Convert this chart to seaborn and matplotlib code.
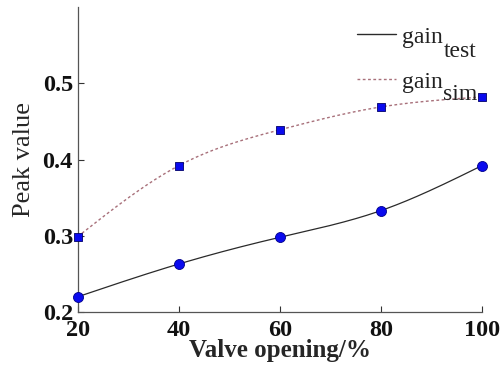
import numpy as np
import pandas as pd
import matplotlib
matplotlib.use("Agg")
import matplotlib.pyplot as plt
import seaborn as sns

# Peak value versus valve opening
opening = [20, 40, 60, 80, 100]
gain_test = [0.220, 0.263, 0.298, 0.333, 0.392]
gain_sim = [0.299, 0.392, 0.439, 0.469, 0.482]
x_ticks = [20, 40, 60, 80, 100]
y_ticks = [0.2, 0.3, 0.4, 0.5]
series_names = ["gain", "gain"]
series_subs = ["test", "sim"]


def natural_spline(x, y, n=200):
    """Smooth natural cubic spline through the given points."""
    x = np.asarray(x, float)
    y = np.asarray(y, float)
    k = len(x)
    h = np.diff(x)
    A = np.zeros((k, k))
    b = np.zeros(k)
    A[0, 0] = A[-1, -1] = 1.0
    for i in range(1, k - 1):
        A[i, i - 1] = h[i - 1]
        A[i, i] = 2 * (h[i - 1] + h[i])
        A[i, i + 1] = h[i]
        b[i] = 3 * ((y[i + 1] - y[i]) / h[i] - (y[i] - y[i - 1]) / h[i - 1])
    c = np.linalg.solve(A, b)
    xs = np.linspace(x[0], x[-1], n)
    ys = np.empty_like(xs)
    for j, xv in enumerate(xs):
        i = min(np.searchsorted(x, xv, side="right") - 1, k - 2)
        dx = xv - x[i]
        bi = (y[i + 1] - y[i]) / h[i] - h[i] * (2 * c[i] + c[i + 1]) / 3
        di = (c[i + 1] - c[i]) / (3 * h[i])
        ys[j] = y[i] + bi * dx + c[i] * dx ** 2 + di * dx ** 3
    return xs, ys


sns.set_style("ticks")
plt.rcParams["font.family"] = ["Liberation Serif", "DejaVu Serif"]

fig = plt.figure(figsize=(5.02, 3.71), dpi=100)
ax = fig.add_axes([0.155, 0.159, 0.805, 0.822])

xs_t, ys_t = natural_spline(opening, gain_test)
xs_s, ys_s = natural_spline(opening, gain_sim)

test_color = "#2a2a2a"
sim_color = "#a8707a"

sns.lineplot(x=xs_t, y=ys_t, ax=ax, color=test_color, lw=0.9,
             label=series_names[0])
sns.lineplot(x=xs_s, y=ys_s, ax=ax, color=sim_color, lw=1.0,
             linestyle=(0, (2.0, 1.8)), label=series_names[1])

pts = pd.DataFrame({"opening": opening, "test": gain_test, "sim": gain_sim})
sns.scatterplot(data=pts, x="opening", y="test", ax=ax, marker="o", s=52,
                color="#0a0aee", edgecolor="#00008a", linewidth=0.6,
                zorder=5, legend=False, clip_on=False)
sns.scatterplot(data=pts, x="opening", y="sim", ax=ax, marker="s", s=34,
                color="#0a0aee", edgecolor="#00006a", linewidth=0.6,
                zorder=5, legend=False, clip_on=False)

ax.set_xlim(20, 100)
ax.set_ylim(0.2, 0.6)
ax.set_xticks(x_ticks)
ax.set_xticklabels([str(v) for v in x_ticks])
ax.set_yticks(y_ticks)
ax.set_yticklabels([f"{v:.1f}" for v in y_ticks])
ax.tick_params(direction="in", length=4, width=0.8, labelsize=17.5,
               colors="#333333")
ax.tick_params(axis="x", pad=6)
ax.tick_params(axis="y", pad=3.5)
for lab in ax.get_xticklabels() + ax.get_yticklabels():
    lab.set_fontweight("bold")
    lab.set_color("#111111")

sns.despine(ax=ax)
for side in ("left", "bottom"):
    ax.spines[side].set_color("#555555")
    ax.spines[side].set_linewidth(0.9)

ax.set_xlabel("Valve opening/%", fontsize=18, fontweight="bold", labelpad=-1.5)
ax.set_ylabel("Peak value", fontsize=19, labelpad=5.5)

leg = ax.legend(loc="upper left", bbox_to_anchor=(357 / 502, 1 - 26 / 371),
                bbox_transform=fig.transFigure, borderaxespad=0, borderpad=0,
                frameon=False, fontsize=17, handlelength=1.65,
                handletextpad=0.25, labelspacing=1.0)
for line in leg.get_lines():
    line.set_linewidth(1.0)

# subscripts at full size, dropped below the baseline
sub_drop = [5, 6.5]
for txt, sub, dy in zip(leg.get_texts(), series_subs, sub_drop):
    ax.annotate(sub, xy=(1, 0), xycoords=txt, xytext=(0.5, dy),
                textcoords="offset points", fontsize=17, ha="left",
                va="top", color="#222222", zorder=20)
    txt.set_color("#222222")

fig.savefig("out.png", dpi=100)
